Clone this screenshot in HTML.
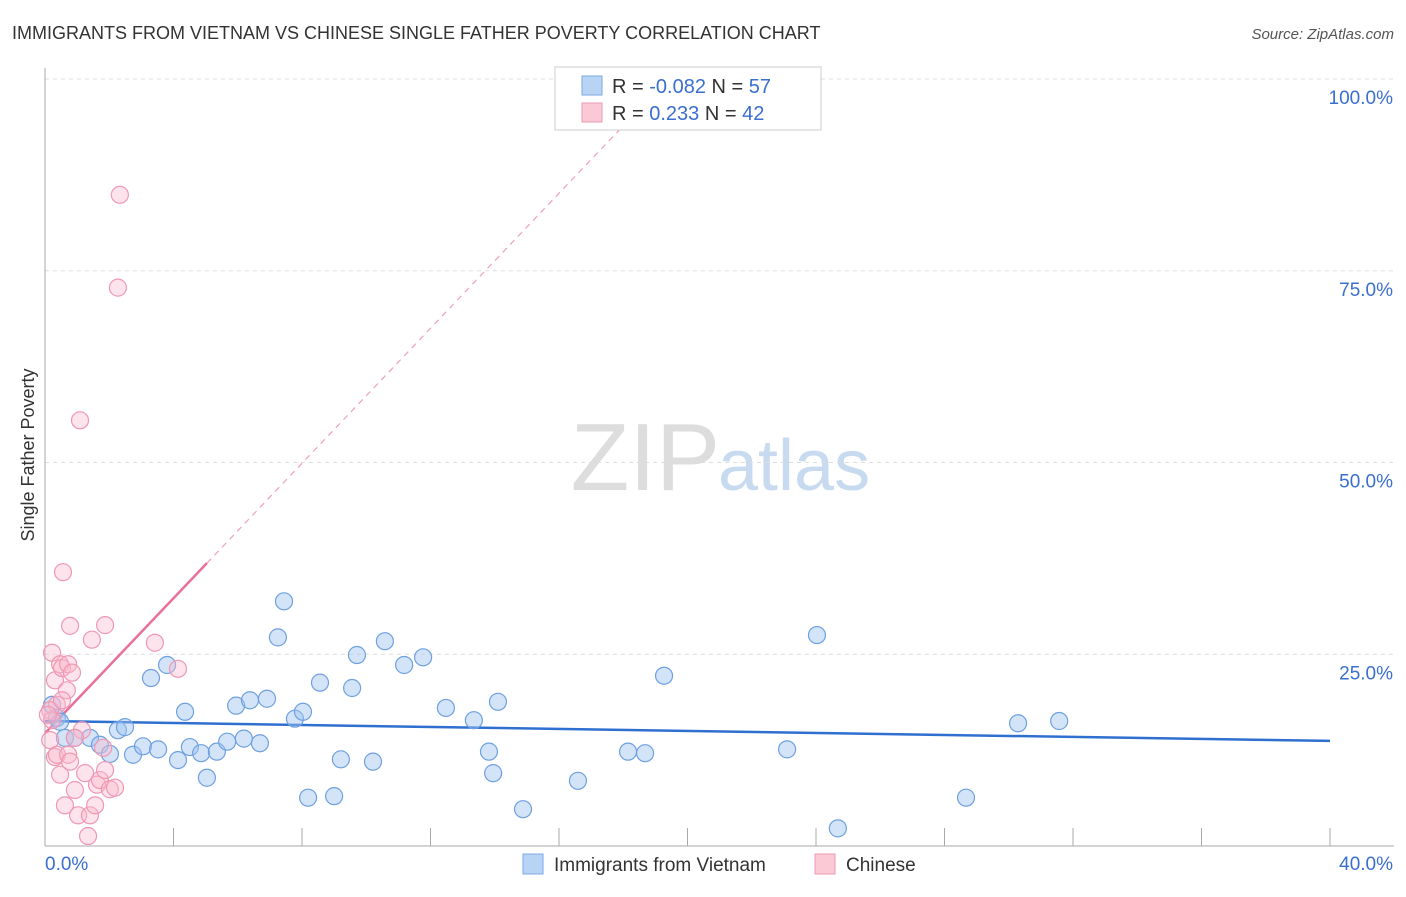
<!DOCTYPE html>
<html><head><meta charset="utf-8"><style>
body{margin:0;background:#fff;font-family:"Liberation Sans",sans-serif;}
svg text{font-family:"Liberation Sans",sans-serif;}
</style></head><body>
<svg id="chart" width="1406" height="892">
<text x="12" y="39" font-size="18" fill="#333">IMMIGRANTS FROM VIETNAM VS CHINESE SINGLE FATHER POVERTY CORRELATION CHART</text>
<text x="1394" y="39" font-size="15" fill="#555" font-style="italic" text-anchor="end">Source: ZipAtlas.com</text>
<text x="720" y="490" font-size="96" fill="#ddd" text-anchor="end" font-family="Liberation Serif">ZIP</text>
<text x="718" y="490" font-size="72" fill="#c8daf0">atlas</text>
<text transform="translate(34,455) rotate(-90)" font-size="18" fill="#333" text-anchor="middle">Single Father Poverty</text>
<g id="grid"></g><g id="ticks"></g><g id="lines"></g><g id="pts"></g>
<g>
<rect x="555" y="67" width="266" height="63" fill="#fff" stroke="#ccc"/>
<rect x="582" y="76" width="20" height="19" fill="#b9d3f5" stroke="#7aa9e6"/>
<rect x="582" y="103" width="20" height="19" fill="#fbc8d6" stroke="#ef9ab3"/>
<text x="612" y="93" font-size="20" fill="#333">R = <tspan fill="#3a6fd0">-0.082</tspan>   N = <tspan fill="#3a6fd0">57</tspan></text>
<text x="612" y="120" font-size="20" fill="#333">R =   <tspan fill="#3a6fd0">0.233</tspan>   N = <tspan fill="#3a6fd0">42</tspan></text>
</g>
<g>
<rect x="523" y="854" width="20" height="20" fill="#b9d3f5" stroke="#7aa9e6"/>
<text x="554" y="871" font-size="19" fill="#333">Immigrants from Vietnam</text>
<rect x="815" y="854" width="20" height="20" fill="#fbc8d6" stroke="#ef9ab3"/>
<text x="846" y="871" font-size="19" fill="#333">Chinese</text>
</g>
</svg>
<script>
const yTicks=[0,25,50,75,100];
const yTickLabels=["","25.0%","50.0%","75.0%","100.0%"];
const xTickLabels=["0.0%","40.0%"];
const blueX=[0.22,0.37,0.47,0.62,0.93,1.40,1.71,2.02,2.27,2.49,2.74,3.05,3.30,3.52,3.80,4.14,4.36,4.51,4.86,5.04,5.35,5.67,5.95,6.19,6.38,6.69,6.91,7.25,7.44,7.78,8.03,8.19,8.56,9.00,9.21,9.56,9.71,10.21,10.58,11.18,11.77,12.48,13.35,13.82,13.95,14.10,14.88,16.59,18.15,18.68,19.27,23.10,24.03,24.68,28.67,30.29,31.57];
const blueY=[18.4,16.7,16.2,14.1,14.1,14.1,13.2,12.0,15.1,15.5,11.9,13.0,21.9,12.6,23.6,11.2,17.5,12.9,12.1,8.9,12.3,13.6,18.3,14.0,19.0,13.4,19.2,27.2,31.9,16.6,17.5,6.3,21.3,6.5,11.3,20.6,24.9,11.0,26.7,23.6,24.6,18.0,16.4,12.3,9.5,18.8,4.8,8.5,12.3,12.1,22.2,12.6,27.5,2.3,6.3,16.0,16.3];
const pinkX=[0.22,0.31,0.37,0.47,0.53,0.56,0.68,0.72,0.78,0.84,0.16,0.22,0.31,0.37,0.47,0.62,0.72,0.78,0.93,1.03,1.09,1.15,1.25,1.34,1.40,1.46,1.56,1.62,1.71,1.81,1.87,1.87,2.02,2.18,2.27,2.33,3.42,4.14,0.16,0.09,0.93,0.53];
const pinkY=[25.2,21.6,18.4,23.7,23.2,35.7,20.3,23.7,28.7,22.6,17.7,16.4,11.6,11.9,9.3,5.3,11.9,11.0,7.3,4.0,55.5,15.1,9.5,1.3,4.0,26.9,5.3,8.0,8.6,12.8,28.8,9.9,7.4,7.6,72.8,84.9,26.5,23.1,13.8,17.1,14.1,19.0];
const blueTrend=[16.3,13.7];
const pinkTrend=[14.7,4.4];
const NS="http://www.w3.org/2000/svg";
const X0=45,X1=1330,Y0=846,Y1=79;
const sx=v=>X0+(X1-X0)*v/40, sy=v=>Y0-(Y0-Y1)*v/100;
function mk(t,a,p){const e=document.createElementNS(NS,t);for(const k in a)e.setAttribute(k,a[k]);document.getElementById(p).appendChild(e);return e;}
yTicks.forEach((t,i)=>{
 if(t>0){const g=mk('line',{x1:X0,x2:1394,y1:sy(t),y2:sy(t),stroke:'#ddd','stroke-dasharray':'4,4'},'grid');
 
 }
 const l=mk('text',{x:1393,y:sy(t)+25,'font-size':19,fill:'#3a6fd0','text-anchor':'end'},'ticks');l.textContent=yTickLabels[i];
 
 
});
const ax=mk('line',{x1:X0,x2:X0,y1:68,y2:Y0,stroke:'#aaa'},'grid');


const bx=mk('line',{x1:X0,x2:1394,y1:Y0,y2:Y0,stroke:'#aaa'},'grid');


for(let i=0;i<=10;i++){const t=mk('line',{x1:sx(i*4),x2:sx(i*4),y1:828,y2:Y0,stroke:'#aaa'},'grid');
 
 }
[[0,xTickLabels[0],'start',45],[40,xTickLabels[1],'end',1393]].forEach(d=>{const l=mk('text',{x:d[3],y:870,'font-size':19,fill:'#3a6fd0','text-anchor':d[2]},'ticks');l.textContent=d[1];
 
 });
const bl=mk('line',{x1:sx(0),y1:sy(blueTrend[0]),x2:sx(40),y2:sy(blueTrend[1]),stroke:'#2f6fd0','stroke-width':2.5},'lines');


const xEnd=(100-pinkTrend[0])/pinkTrend[1];
const pd=mk('line',{x1:sx(5.04),y1:sy(pinkTrend[0]+pinkTrend[1]*5.04),x2:sx(xEnd),y2:sy(100),stroke:'#f0a0b8','stroke-width':1.2,'stroke-dasharray':'6,5'},'lines');


const pl=mk('line',{x1:sx(0),y1:sy(pinkTrend[0]),x2:sx(5.04),y2:sy(pinkTrend[0]+pinkTrend[1]*5.04),stroke:'#e8709a','stroke-width':2.5},'lines');


blueX.forEach((v,i)=>{const c=mk('circle',{cx:sx(v),cy:sy(blueY[i]),r:8.5,fill:'rgba(160,195,240,0.45)',stroke:'#6fa0e0','stroke-width':1.2},'pts');
 
 });
pinkX.forEach((v,i)=>{const c=mk('circle',{cx:sx(v),cy:sy(pinkY[i]),r:8.5,fill:'rgba(250,185,205,0.4)',stroke:'#ef98b4','stroke-width':1.2},'pts');
 
 });
</script>
</body></html>
